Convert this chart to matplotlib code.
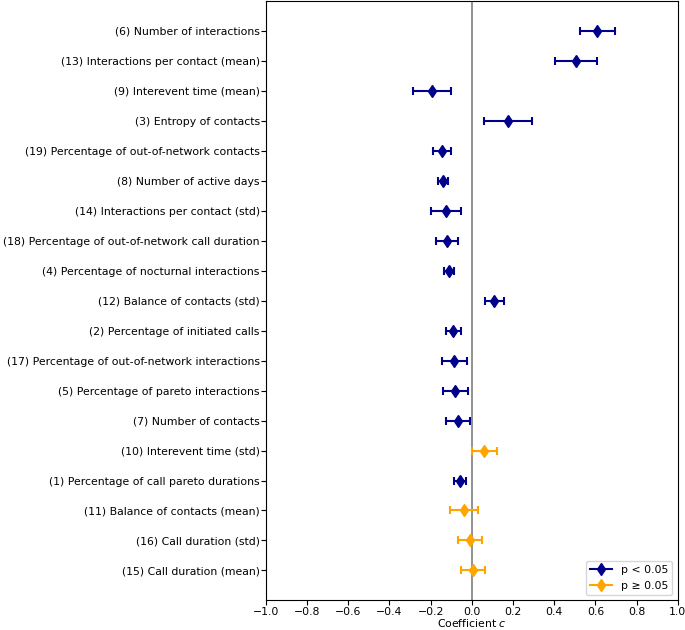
import matplotlib
matplotlib.use("Agg")
import matplotlib.pyplot as plt
import numpy as np
from matplotlib.lines import Line2D

labels = [
    "(6) Number of interactions",
    "(13) Interactions per contact (mean)",
    "(9) Interevent time (mean)",
    "(3) Entropy of contacts",
    "(19) Percentage of out-of-network contacts",
    "(8) Number of active days",
    "(14) Interactions per contact (std)",
    "(18) Percentage of out-of-network call duration",
    "(4) Percentage of nocturnal interactions",
    "(12) Balance of contacts (std)",
    "(2) Percentage of initiated calls",
    "(17) Percentage of out-of-network interactions",
    "(5) Percentage of pareto interactions",
    "(7) Number of contacts",
    "(10) Interevent time (std)",
    "(1) Percentage of call pareto durations",
    "(11) Balance of contacts (mean)",
    "(16) Call duration (std)",
    "(15) Call duration (mean)",
]
coef = [0.610, 0.505, -0.193, 0.175, -0.143, -0.140, -0.125, -0.121, -0.111, 0.110,
        -0.089, -0.084, -0.080, -0.068, 0.061, -0.056, -0.036, -0.010, 0.007]
err = [0.087, 0.102, 0.090, 0.116, 0.044, 0.024, 0.073, 0.052, 0.026, 0.046,
       0.036, 0.060, 0.061, 0.058, 0.062, 0.030, 0.068, 0.058, 0.059]
significant = [True] * 14 + [False, True, False, False, False]

sig_color = "darkblue"
nonsig_color = "orange"

plt.rcParams["font.size"] = 7.8

fig = plt.figure(figsize=(6.85, 6.30), dpi=100)
ax = fig.add_axes([0.388, 0.047, 0.6015, 0.9515])

ypos = np.arange(len(labels))
ax.axvline(0, color="gray", lw=1.2, zorder=1)
for y, c, e, s in zip(ypos, coef, err, significant):
    col = sig_color if s else nonsig_color
    ax.errorbar(c, y, xerr=e, fmt="d", color=col, ecolor=col, capsize=3,
                elinewidth=1.5, capthick=1.5, markersize=6, zorder=3)

ax.set_yticks(ypos)
ax.set_yticklabels(labels)
ax.tick_params(axis="y", pad=0.8)
ax.tick_params(axis="x", pad=1.0)
ax.set_ylim(len(labels), -1)
ax.set_xlim(-1, 1)
ax.set_xticks(np.arange(-1.0, 1.01, 0.2))
ax.set_xlabel("Coefficient $c$", labelpad=0.5)

handles = [Line2D([], [], color=sig_color, marker="d", lw=1.5, markersize=6),
           Line2D([], [], color=nonsig_color, marker="d", lw=1.5, markersize=6)]
ax.legend(handles, ["p < 0.05", "p \u2265 0.05"], loc="lower right")

fig.savefig("out.png", dpi=100)
